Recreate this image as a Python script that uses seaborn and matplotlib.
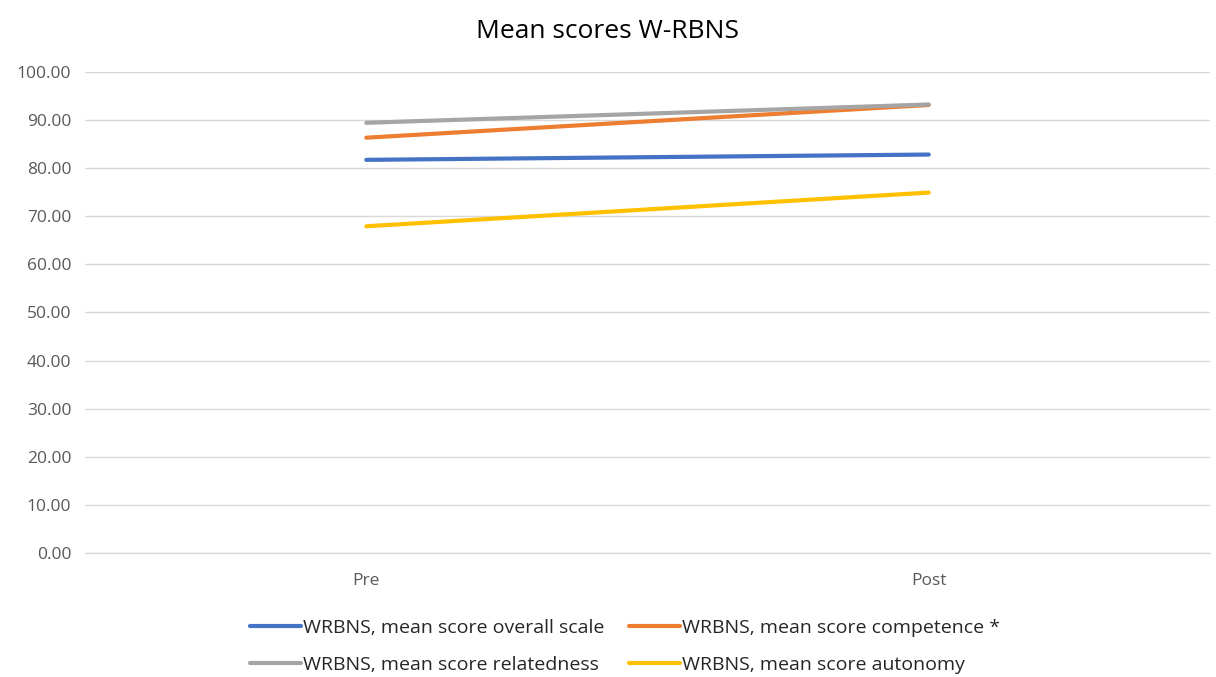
import matplotlib
matplotlib.use("Agg")
import matplotlib.pyplot as plt
import seaborn as sns
import pandas as pd
from matplotlib.ticker import FormatStrFormatter

# --- data --------------------------------------------------------------------
moments = ["Pre", "Post"]
overall = [81.7, 82.8]
competence = [86.3, 93.1]
relatedness = [89.4, 93.2]
autonomy = [67.9, 74.9]

series_names = [
    "WRBNS, mean score overall scale",
    "WRBNS, mean score competence *",
    "WRBNS, mean score relatedness",
    "WRBNS, mean score autonomy",
]
colors = ["#4472C4", "#ED7D31", "#A5A5A5", "#FFC000"]

df = pd.concat([
    pd.DataFrame({"moment": moments, "score": vals, "series": name})
    for name, vals in zip(series_names, [overall, competence, relatedness, autonomy])
])
df["x"] = df["moment"].map({m: i for i, m in enumerate(moments)})

# --- plot --------------------------------------------------------------------
sns.set_style("white")
plt.rcParams["font.family"] = ["Open Sans", "DejaVu Sans"]

fig = plt.figure(figsize=(12.16, 6.77), dpi=100)
ax = fig.add_axes([0.07, 0.183, 0.925, 0.711])

sns.lineplot(data=df, x="x", y="score", hue="series", hue_order=series_names,
             palette=colors, linewidth=3, ax=ax, legend=True,
             solid_capstyle="round")

ax.set_xlim(-0.5, 1.5)
ax.set_ylim(0, 100)
ax.set_yticks(range(0, 101, 10))
ax.yaxis.set_major_formatter(FormatStrFormatter("%.2f"))
ax.set_xticks(range(len(moments)))
ax.set_xticklabels(moments)
ax.tick_params(axis="both", length=0, labelsize=12.5, colors="#595959", pad=10)
ax.tick_params(axis="x", pad=14)
ax.yaxis.grid(True, color="#D9D9D9", linewidth=1)
ax.axhline(0, color="#D9D9D9", linewidth=1, zorder=0, clip_on=False)
ax.set_axisbelow(True)
for s in ax.spines.values():
    s.set_visible(False)
ax.set_xlabel("")
ax.set_ylabel("")

fig.suptitle("Mean scores W-RBNS", y=0.972, fontsize=19, color="#000000")

# legend filled row by row like the original
handles, labels = ax.get_legend_handles_labels()
order = [0, 2, 1, 3]
ax.legend([handles[i] for i in order], [labels[i] for i in order],
          loc="upper center", bbox_to_anchor=(0.48, -0.1),
          ncol=2, frameon=False, fontsize=14, handlelength=2.6,
          handletextpad=0.1, columnspacing=1.3, labelspacing=1.0)

fig.savefig("out.png", dpi=100)
